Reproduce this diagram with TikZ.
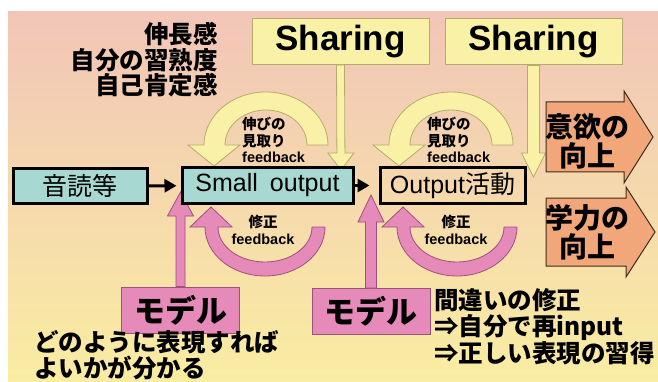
\documentclass[tikz,border=0pt]{standalone}
\usepackage{fontspec}
\setmainfont{Liberation Sans}
\newfontfamily\jpfont{Noto Sans CJK JP}
\usetikzlibrary{arrows.meta,calc}
\definecolor{bgtop}{HTML}{F2C5B8}
\definecolor{bgmid}{HTML}{F6D8B0}
\definecolor{bgbot}{HTML}{F9EDA2}
\definecolor{tealbg}{HTML}{A8D8D2}
\definecolor{shareyel}{HTML}{F8F1A6}
\definecolor{shareline}{HTML}{B4AC6C}
\definecolor{pinkbg}{HTML}{E58AB9}
\definecolor{pinkline}{HTML}{A0507C}
\definecolor{orangebg}{HTML}{F2A77A}
\definecolor{orangeline}{HTML}{3C2A1C}

\begin{document}
\begin{tikzpicture}[x=1pt, y=1pt, every node/.style={inner sep=0pt},
    tealbox/.style={draw=black, line width=3pt, minimum height=35pt, font=\fontsize{25}{28}\selectfont},
    sharebox/.style={draw=shareline, line width=1pt, fill=shareyel, minimum width=177pt, minimum height=46pt, font=\bfseries\fontsize{35}{40}\selectfont},
    modelbox/.style={draw=pinkline, line width=1pt, fill=pinkbg, minimum width=118pt, minimum height=46pt, font=\bfseries\jpfont\fontsize{31}{34}\selectfont},
    yelshape/.style={draw=shareline, line width=0.8pt, fill=shareyel},
    pinkshape/.style={draw=pinkline, line width=0.8pt, fill=pinkbg},
    orangeshape/.style={draw=orangeline, line width=1pt, fill=orangebg},
    flow/.style={line width=3pt, -{Triangle[length=12pt,width=13pt]}},
    bigjp/.style={font=\bfseries\jpfont\fontsize{24.5}{25.5}\selectfont},
    arrowjp/.style={font=\bfseries\jpfont\fontsize{28}{29}\selectfont, align=center},
    fbtext/.style={font=\bfseries\fontsize{14.5}{16.5}\selectfont},
    fat/.style n args={3}{to path={let \p1=(\tikztostart), \p2=(\tikztotarget),
        \n1={atan2(\y2-\y1,\x2-\x1)}, \n2={veclen(\x2-\x1,\y2-\y1)} in
        ($(\p1)+({\n1+90}:#1)$) -- ($(\p1)+(\n1:{\n2-#3})+({\n1+90}:#1)$)
        -- ($(\p1)+(\n1:{\n2-#3})+({\n1+90}:#2)$) -- (\p2)
        -- ($(\p1)+(\n1:{\n2-#3})+({\n1-90}:#2)$) -- ($(\p1)+(\n1:{\n2-#3})+({\n1-90}:#1)$)
        -- ($(\p1)+({\n1-90}:#1)$) -- cycle}}]

    % background
    \useasboundingbox (0,0) rectangle (658,-382);
    \shade[top color=bgtop, middle color=bgmid, bottom color=bgbot] (8,-12) rectangle (658,-382);

    % sharing boxes
    \node[sharebox] (share1) at (340.5,-41.5) {Sharing};
    \node[sharebox] (share2) at (533.5,-42) {Sharing};
    \node[bigjp, align=right, anchor=east] (gains) at (218,-60) {伸長感\\自分の習熟度\\自己肯定感};

    % models
    \node[modelbox] (model1) at (180.5,-310) {モデル};
    \node[modelbox] (model2) at (371,-311.5) {モデル};

    \coordinate (tip1) at (341,-170);
    \coordinate (tip2) at (533.5,-177);
    \coordinate (tip3) at (180.5,-192);
    \coordinate (tip4) at (371,-195);
    \draw[yelshape] (share1.south) to[fat={4}{13}{17}] (tip1);
    \draw[yelshape] (share2.south) to[fat={6}{12}{24}] (tip2);
    \draw[pinkshape] (model1.north) to[fat={4.5}{13}{24}] (tip3);
    \draw[pinkshape] (model2.north) to[fat={5.5}{13}{27}] (tip4);

    % yellow feedback loops
    \draw[yelshape] (307,-145) -- (328,-145)
        arc[start angle=0, end angle=180, x radius=62, y radius=53]
        -- (188,-145) -- (214,-166) -- (240,-145) -- (225,-145)
        arc[start angle=180, end angle=0, x radius=41, y radius=35] -- cycle;
    \draw[yelshape] (492,-145) -- (513,-145)
        arc[start angle=0, end angle=180, x radius=62, y radius=53]
        -- (373,-145) -- (399,-166) -- (425,-145) -- (410,-145)
        arc[start angle=180, end angle=0, x radius=41, y radius=35] -- cycle;
    \node[fbtext, align=left, anchor=west] (look1) at (242,-140) {{\jpfont 伸びの}\\{\jpfont 見取り}\\feedback};
    \node[fbtext, align=left, anchor=west] (look2) at (427,-140) {{\jpfont 伸びの}\\{\jpfont 見取り}\\feedback};

    % pink feedback loops
    \draw[pinkshape] (325,-227)
        arc[start angle=0, end angle=-180, x radius=60, y radius=49]
        -- (190,-227) -- (211,-207) -- (232,-227) -- (218,-227)
        arc[start angle=180, end angle=360, x radius=47, y radius=35] -- cycle;
    \draw[pinkshape] (517,-227)
        arc[start angle=0, end angle=-180, x radius=60, y radius=49]
        -- (382,-227) -- (403,-207) -- (424,-227) -- (410,-227)
        arc[start angle=180, end angle=360, x radius=47, y radius=35] -- cycle;
    \node[fbtext, align=center] (fix1) at (263,-230) {{\jpfont 修正}\\feedback};
    \node[fbtext, align=center] (fix2) at (456,-230) {{\jpfont 修正}\\feedback};

    % main flow
    \node[tealbox, fill=tealbg, minimum width=134pt] (ondoku) at (80,-186) {\jpfont 音読等};
    \node[tealbox, fill=tealbg, minimum width=171pt] (small) at (267.5,-185.5) {Small\hspace{12pt}output};
    \node[tealbox, minimum width=145pt] (output) at (452.5,-185.5) {Output{\jpfont 活動}};
    \draw[flow, shorten >=4pt] (ondoku) -- (small);
    \draw[flow, shorten >=9pt] (small) -- (output);

    % results
    \draw[orangeshape] (546,-137) to[fat={35}{46}{29}] (653,-137);
    \draw[orangeshape] (546,-232) to[fat={34}{45}{29}] (655,-232);
    \node[arrowjp] (motiv) at (587,-141.5) {意欲の\\向上};
    \node[arrowjp] (ability) at (587,-232) {学力の\\向上};

    % notes
    \node[bigjp, align=left, anchor=west] (hint) at (34,-355) {どのように表現すれば\\よいかが分かる};
    \node[bigjp, align=left, anchor=west] (fix) at (434,-327) {間違いの修正\\⇒自分で再input\\⇒正しい表現の習得};
\end{tikzpicture}
\end{document}
